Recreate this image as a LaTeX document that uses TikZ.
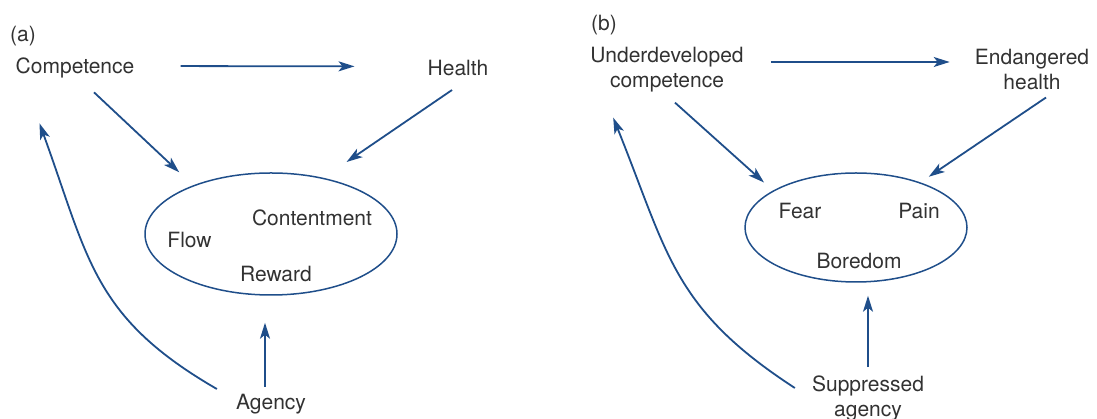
\documentclass[tikz,border=0pt]{standalone}
\usepackage{fontspec}
\setmainfont{TeX Gyre Heros}
\usetikzlibrary{shapes,arrows.meta}
\definecolor{linkblue}{RGB}{31, 78, 138}
\definecolor{ink}{RGB}{50, 50, 50}
\tikzstyle{state} = [ellipse, draw=linkblue, line width=1.5pt, inner sep=0pt]
\tikzstyle{term} = [draw=none, fill=none, text=ink, inner sep=2pt, align=center, font=\fontsize{21}{25}\selectfont]
\tikzstyle{link} = [draw=linkblue, line width=1.8pt, -{Stealth[length=16pt, width=10pt, inset=4pt]}]

\begin{document}
\begin{tikzpicture}[x=1pt, y=1pt]
\useasboundingbox (0,0) rectangle (1097,419);

% panel (a) =============================

\node[term] (taga) at (23,383) {(a)};
\node[term] (comp) at (75,351) {Competence};
\node[term] (health) at (458,350.5) {Health};
\node[term] (agency) at (271,14.5) {Agency};

% states in the ellipse
\node[state, minimum width=252pt, minimum height=122pt] (good) at (271,185) {};
\node[term] (content) at (312,201.5) {Contentment};
\node[term] (flow) at (189.5,178.5) {Flow};
\node[term] (reward) at (276,144.5) {Reward};

% edges
\draw[link, shorten <=44pt, shorten >=71pt] ([yshift=2pt]comp.east) -- ([yshift=2pt]health.west);
\draw[link, shorten >=19pt] ([shift={(19pt,-12pt)}]comp.south) -- (good.148);
\draw[link, shorten >=28pt] ([shift={(-6pt,-11.5pt)}]health.south) -- (good.47.5);
\draw[link, shorten <=5.5pt, shorten >=27pt] ([xshift=-6pt]agency.north) -- ([xshift=-6pt]good.south);
\draw[link] ([shift={(-17pt,15.5pt)}]agency.west) to[out=150, in=-70, looseness=1.15] ([shift={(26pt,-43pt)}]comp.south west);

% panel (b) =============================

\node[term] (tagb) at (604,393.5) {(b)};
\node[term] (weak) at (667,349.5) {Underdeveloped\\competence};
\node[term] (risk) at (1032,349.5) {Endangered\\health};
\node[term] (supp) at (868,21) {Suppressed\\agency};

% states in the ellipse
\node[state, minimum width=222pt, minimum height=109pt] (bad) at (856,191.5) {};
\node[term] (fear) at (800,207.5) {Fear};
\node[term] (pain) at (919,207.5) {Pain};
\node[term] (bored) at (859,157.5) {Boredom};

% edges
\draw[link, shorten <=25pt, shorten >=23pt] ([yshift=7.5pt]weak.east) -- ([yshift=7.5pt]risk.west);
\draw[link, shorten >=12pt] ([shift={(8pt,-8.5pt)}]weak.south) -- (bad.156);
\draw[link, shorten >=10pt] ([shift={(14pt,-5.5pt)}]risk.south) -- (bad.35);
\draw[link, shorten <=6pt, shorten >=13pt] (supp.north) -- ([xshift=12pt]bad.south);
\draw[link] ([shift={(-15pt,10pt)}]supp.west) to[out=147, in=-68, looseness=1.15] ([shift={(25pt,-23.5pt)}]weak.south west);

\end{tikzpicture}
\end{document}
